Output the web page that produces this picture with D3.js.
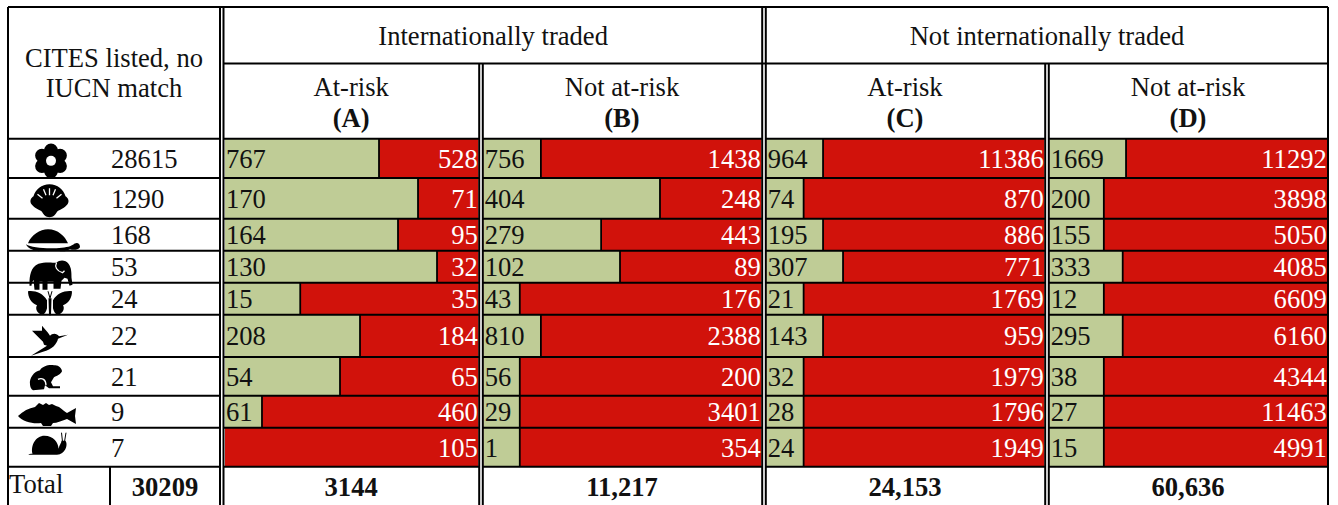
<!DOCTYPE html>
<html>
<head>
<meta charset="utf-8">
<style>
  html, body { margin: 0; padding: 0; background: #fff; }
  svg { display: block; }
  text { font-family: "Liberation Serif", "Times New Roman", serif; font-size: 26.6px; fill: #111; }
</style>
</head>
<body>
<div id="chart"></div>
<script src="https://cdn.jsdelivr.net/npm/d3@7"></script>
<script>
const species = ['plants', 'molluscs', 'reptiles', 'mammals', 'insects', 'birds', 'amphibians', 'fish', 'snails'];
const citesCounts = [28615, 1290, 168, 53, 24, 22, 21, 9, 7];

// green / red counts printed in each panel
const safeA = [767, 170, 164, 130, 15, 208, 54, 61, null];
const riskA = [528, 71, 95, 32, 35, 184, 65, 460, 105];
const safeB = [756, 404, 279, 102, 43, 810, 56, 29, 1];
const riskB = [1438, 248, 443, 89, 176, 2388, 200, 3401, 354];
const safeC = [964, 74, 195, 307, 21, 143, 32, 28, 24];
const riskC = [11386, 870, 886, 771, 1769, 959, 1979, 1796, 1949];
const safeD = [1669, 200, 155, 333, 12, 295, 38, 27, 15];
const riskD = [11292, 3898, 5050, 4085, 6609, 6160, 4344, 11463, 4991];

// share of each bar painted green, in percent
// (the source is an html table, so it is not the ratio of the two counts)
const shareA = [60.8, 76.2, 68.3, 83.7, 29.7, 53.3, 45.4, 14.6, 0];
const shareB = [20.6, 63.5, 42.3, 49.1, 13, 20.6, 13, 13, 13];
const shareC = [20.3, 13.3, 20.3, 27.5, 13.3, 20.3, 13.3, 13.3, 13.3];
const shareD = [27.5, 19.5, 19.5, 26.3, 19.5, 26.3, 19.5, 19.5, 19.5];

const groupLabels = ['Internationally traded', 'Not internationally traded'];
const panelLabels = ['At-risk', 'Not at-risk', 'At-risk', 'Not at-risk'];
const panelLetters = ['(A)', '(B)', '(C)', '(D)'];
const totals = ['3144', '11,217', '24,153', '60,636'];
const citesTotal = '30209';

const width = 1338, height = 505;
const green = '#bfcc96', red = '#d1120b', ink = '#000';

// table grid
const rowEdges = [138.7, 178, 218.7, 250.7, 282.7, 314.7, 357, 395.7, 427.7, 466.7];
const panelEdges = [[225, 478.3], [483.7, 761.3], [766.7, 1044.3], [1049.7, 1327.3]];
const gridLeft = 8, gridRight = 1328, gridTop = 7, headerMid = 63.5;

const rowTop = d3.scaleOrdinal(species, rowEdges.slice(0, -1));
const rowBottom = d3.scaleOrdinal(species, rowEdges.slice(1));
const rowMid = d => (rowTop(d) + rowBottom(d)) / 2;

const panels = [
  { share: shareA, safe: safeA, risk: riskA },
  { share: shareB, safe: safeB, risk: riskB },
  { share: shareC, safe: safeC, risk: riskC },
  { share: shareD, safe: safeD, risk: riskD }
];
panels.forEach((p, i) => {
  p.x = d3.scaleLinear().domain([0, 100]).range(panelEdges[i]);
  p.mid = (panelEdges[i][0] + panelEdges[i][1]) / 2 - 0.5;
  p.label = panelLabels[i];
  p.letter = panelLetters[i];
  p.total = totals[i];
});

const circle = (x, y, r) => `M${x - r},${y}a${r},${r} 0 1,0 ${2 * r},0a${r},${r} 0 1,0 ${-2 * r},0Z`;
const petals = d3.range(6).map(i => {
  const a = i * Math.PI / 3;
  return circle(10.5 * Math.sin(a), -10.5 * Math.cos(a), 6.8);
}).join('');

// silhouettes drawn around their own centre: fill path, plus white detail strokes
const icons = {
  plants: { cx: 51, fill: petals + circle(0, 0, 8), white: circle(0, 0, 5), whiteFill: true, dy: 2.5 },
  molluscs: { cx: 49.5,
    fill: 'M0,-16C8,-16 14,-11 16,-4C19,-2 20,1 18,4C15,8 11,9 8,11C6,14 4,17 0,17C-4,17 -6,14 -8,11C-11,9 -15,8 -18,4C-20,1 -19,-2 -16,-4C-14,-11 -8,-16 0,-16Z',
    white: 'M0,-12L0,-5M-6,-11L-3.5,-5M6,-11L3.5,-5M-12,-6L-7,-2M12,-6L7,-2', dy: 2 },
  reptiles: { cx: 53,
    fill: 'M-25,3C-22,-5 -13,-11 -5,-11C5,-11 12,-4 15,3ZM-27,4C-20,9 8,9 17,6C20,5 21,3 23,3C26,2 27,5 27,7C25,10 20,10 17,9L12,11L7,11L6,10L-12,10L-14,11L-19,10C-22,9 -26,7 -27,4Z', dy: 5.5 },
  mammals: { cx: 50.5,
    fill: 'M-21,8C-21,2 -20,-8 -12,-11C-6,-13 2,-12 6,-12C9,-15 15,-15 18,-11C21,-7 21,-2 21,3L22,10L19,11L17,4L14,3L11,6L10,14L3,14L3,7L-3,7L-3,15L-8,15L-8,7L-11,7L-11,15L-16,15L-17,5C-18,7 -19,9 -19,11L-21,11Z',
    white: 'M6,-12C4,-8 6,-4 12,-2L14,-4', dy: 8 },
  insects: { cx: 50,
    fill: 'M3,-2C7,-9 15,-12 22,-11C22,-5 19,1 13,3C15,6 13,11 9,12C6,13 4,10 3,6ZM-3,-2C-7,-9 -15,-12 -22,-11C-22,-5 -19,1 -13,3C-15,6 -13,11 -9,12C-6,13 -4,10 -3,6ZM-1.5,-4L1.5,-4L1,13L-1,13Z',
    line: 'M0,-4L-2,-11M0,-4L2,-11', dy: 3.5 },
  birds: { cx: 50,
    fill: 'M18,-6L9,-4.5C7,-8 2,-8 0,-5L-2,-8L-8,-15L-8,-10L-18,-10L-11,-3L-7,1L-6,4L-3,5L-19,15L-7,11C2,9 7,3 8,-2Z', dy: 5 },
  amphibians: { cx: 46,
    fill: 'M-16,7C-17,1 -12,-6 -6,-7C-4,-11 3,-13 8,-12C12,-13 16,-9 16,-6C15,-3 10,-1 8,0L5,5L7,9L14,9L14,11L3,11L-1,8L-2,12L-13,13C-15,12 -16,9 -16,7Z',
    white: 'M-8,2C-4,0 0,2 0,8', dy: 1 },
  fish: { cx: 47,
    fill: 'M-29,1C-24,-4 -18,-7 -12,-8L-8,-12L-4,-10L-1,-12L2,-10L5,-11L9,-9L12,-8C16,-5 18,-3 20,-2L29,-7L28,1L29,9L20,4C14,6 10,8 6,8L4,11L-4,11L-6,8C-14,9 -24,7 -29,1Z', dy: 3.3 },
  snails: { cx: 47.5,
    fill: 'M-15,8C-17,0 -12,-10 -3,-10C6,-10 11,-3 11,3C12,-1 14,-3 14,-5L18,-5C20,-2 19,3 16,6C13,9 10,9 8,9L-19,9C-19,8 -17,8 -15,8Z',
    line: 'M15,-4L14,-13M17,-4L18.5,-13', dy: -1.5 }
};

const svg = d3.select('#chart').append('svg')
  .attr('width', width)
  .attr('height', height);

// --- Bars ---
const panelG = svg.selectAll('.panel')
  .data(panels)
  .join('g')
    .attr('class', 'panel');

panelG.each(function(p) {
  const g = d3.select(this);
  const rows = species.map((s, i) => ({ s, share: p.share[i], safe: p.safe[i], risk: p.risk[i] }));

  g.selectAll('.bar-risk')
    .data(rows)
    .join('rect')
      .attr('class', 'bar-risk')
      .attr('x', p.x(0))
      .attr('y', d => rowTop(d.s))
      .attr('width', p.x(100) - p.x(0))
      .attr('height', d => rowBottom(d.s) - rowTop(d.s))
      .attr('fill', red);

  g.selectAll('.bar-safe')
    .data(rows.filter(d => d.share > 0))
    .join('rect')
      .attr('class', 'bar-safe')
      .attr('x', p.x(0))
      .attr('y', d => rowTop(d.s))
      .attr('width', d => p.x(d.share) - p.x(0))
      .attr('height', d => rowBottom(d.s) - rowTop(d.s))
      .attr('fill', green);

  g.selectAll('.bar-split')
    .data(rows.filter(d => d.share > 0))
    .join('line')
      .attr('class', 'bar-split')
      .attr('x1', d => p.x(d.share))
      .attr('x2', d => p.x(d.share))
      .attr('y1', d => rowTop(d.s))
      .attr('y2', d => rowBottom(d.s))
      .attr('stroke', ink)
      .attr('stroke-width', 1.8);

  g.selectAll('.label-safe')
    .data(rows.filter(d => d.safe !== null))
    .join('text')
      .attr('class', 'label-safe')
      .attr('x', p.x(0) + 1)
      .attr('y', d => rowMid(d.s) + 9.5)
      .text(d => d.safe);

  g.selectAll('.label-risk')
    .data(rows)
    .join('text')
      .attr('class', 'label-risk')
      .attr('x', p.x(100) - 0.5)
      .attr('y', d => rowMid(d.s) + 9.5)
      .attr('text-anchor', 'end')
      .style('fill', '#fff')
      .text(d => d.risk);

  // panel header and total
  g.append('text').attr('x', p.mid).attr('y', 96).attr('text-anchor', 'middle').text(p.label);
  g.append('text').attr('x', p.mid).attr('y', 127).attr('text-anchor', 'middle').style('font-weight', 'bold').text(p.letter);
  g.append('text').attr('x', p.mid).attr('y', 496).attr('text-anchor', 'middle').style('font-weight', 'bold').text(p.total);
});

// --- Grid lines ---
const hLines = [
  [gridLeft, gridRight, gridTop],
  [223.5, gridRight, headerMid],
  ...rowEdges.map(y => [gridLeft, 220, y]),
  ...rowEdges.flatMap(y => panelEdges.map(e => [e[0] - 1, e[1] + 1, y]))
];
const vLines = [
  [gridLeft, gridTop, height],
  [110, rowEdges[9], height],
  [220, gridTop, height],
  [223.5, gridTop, height],
  [479.2, headerMid, height],
  [482.8, headerMid, height],
  [762.2, gridTop, height],
  [765.8, gridTop, height],
  [1045.2, headerMid, height],
  [1048.8, headerMid, height],
  [gridRight, gridTop, height]
];
svg.selectAll('.h-line')
  .data(hLines)
  .join('line')
    .attr('class', 'h-line')
    .attr('x1', d => d[0]).attr('x2', d => d[1])
    .attr('y1', d => d[2]).attr('y2', d => d[2])
    .attr('stroke', ink)
    .attr('stroke-width', 2);
svg.selectAll('.v-line')
  .data(vLines)
  .join('line')
    .attr('class', 'v-line')
    .attr('x1', d => d[0]).attr('x2', d => d[0])
    .attr('y1', d => d[1]).attr('y2', d => d[2])
    .attr('stroke', ink)
    .attr('stroke-width', 2);

// --- Left column ---
svg.selectAll('.cites-count')
  .data(species)
  .join('text')
    .attr('class', 'cites-count')
    .attr('x', 111)
    .attr('y', d => rowMid(d) + 9.5)
    .text((d, i) => citesCounts[i]);

const iconG = svg.selectAll('.icon')
  .data(species)
  .join('g')
    .attr('class', 'icon')
    .attr('transform', d => `translate(${icons[d].cx},${rowMid(d) + icons[d].dy})`);
iconG.append('path').attr('d', d => icons[d].fill).attr('fill', ink);
iconG.filter(d => icons[d].line).append('path')
  .attr('d', d => icons[d].line).attr('fill', 'none').attr('stroke', ink).attr('stroke-width', 1);
iconG.filter(d => icons[d].white).append('path')
  .attr('d', d => icons[d].white)
  .attr('fill', d => icons[d].whiteFill ? '#fff' : 'none')
  .attr('stroke', d => icons[d].whiteFill ? 'none' : '#fff')
  .attr('stroke-width', 1.3);

// --- Header and total labels ---
svg.append('text').attr('x', 114).attr('y', 67).attr('text-anchor', 'middle').text('CITES listed, no');
svg.append('text').attr('x', 114).attr('y', 97).attr('text-anchor', 'middle').text('IUCN match');
svg.selectAll('.group-label')
  .data(groupLabels)
  .join('text')
    .attr('class', 'group-label')
    .attr('x', (d, i) => (panelEdges[i * 2][0] + panelEdges[i * 2 + 1][1]) / 2)
    .attr('y', 45)
    .attr('text-anchor', 'middle')
    .text(d => d);
svg.append('text').attr('x', 9).attr('y', 493).text('Total');
svg.append('text').attr('x', 165).attr('y', 496).attr('text-anchor', 'middle').style('font-weight', 'bold').text(citesTotal);
</script>
</body>
</html>
